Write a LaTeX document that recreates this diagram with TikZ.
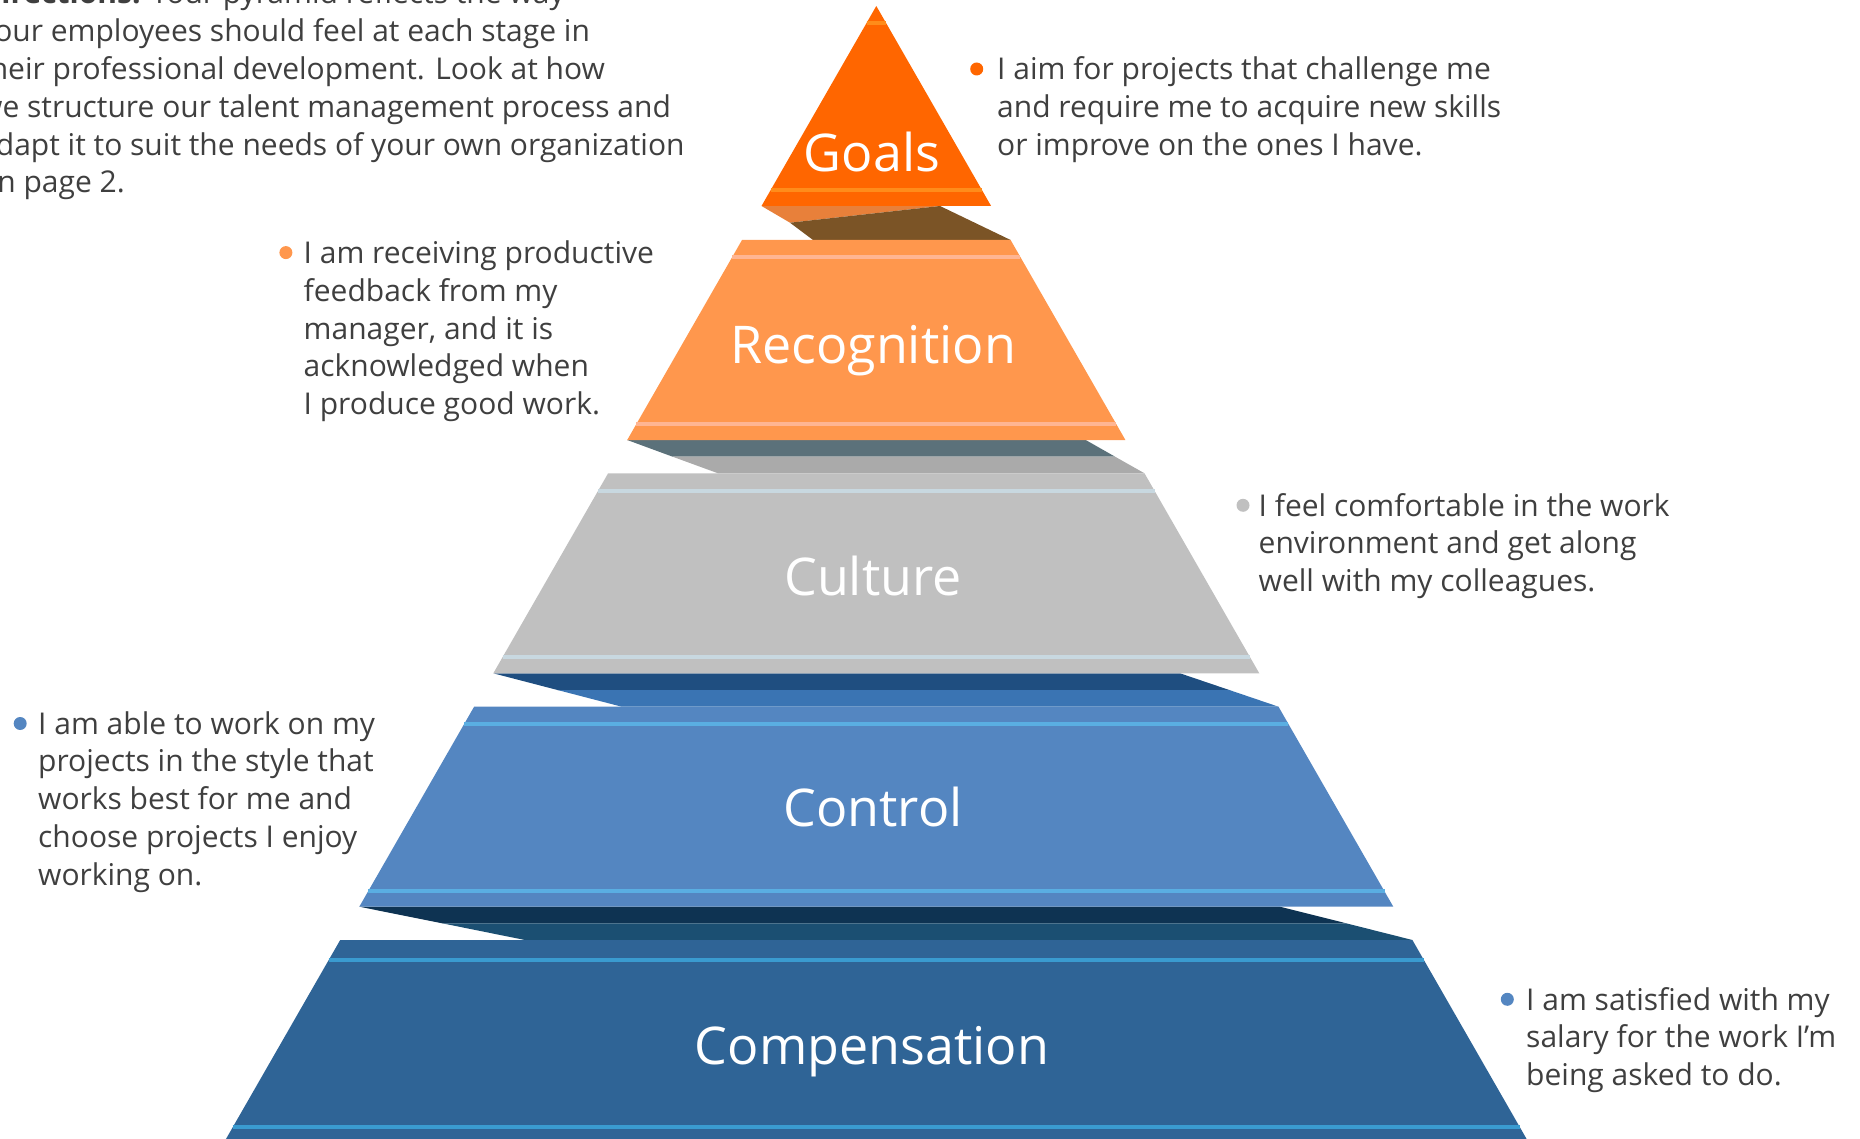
\documentclass[tikz,border=0pt]{standalone}
\usepackage{fontspec}
\setmainfont{Open Sans}
\usepackage{tikz}

\definecolor{notegray}{HTML}{3F3F3F}
\definecolor{goalsfill}{HTML}{FF6600}
\definecolor{goalsline}{HTML}{FF8C1A}
\definecolor{goalsfoldA}{HTML}{E8803A}
\definecolor{goalsfoldB}{HTML}{7B5426}
\definecolor{recfill}{HTML}{FF974D}
\definecolor{recline}{HTML}{FFB592}
\definecolor{recfoldA}{HTML}{5B717A}
\definecolor{recfoldB}{HTML}{AAAAAA}
\definecolor{culfill}{HTML}{C0C0C0}
\definecolor{culline}{HTML}{C8D8E0}
\definecolor{culfoldA}{HTML}{1F4E80}
\definecolor{culfoldB}{HTML}{3A74B3}
\definecolor{ctrlfill}{HTML}{5486C1}
\definecolor{ctrlline}{HTML}{5AAEE2}
\definecolor{ctrlfoldA}{HTML}{0E3352}
\definecolor{ctrlfoldB}{HTML}{1B4F72}
\definecolor{compfill}{HTML}{2F6496}
\definecolor{compline}{HTML}{3A9BD0}

\begin{document}
\begin{tikzpicture}[x=1pt,y=-1pt]
  \tikzstyle{Label}=[text=white,font=\fontsize{52}{62}\selectfont,anchor=base,inner sep=0pt]
  % base west of a Note is the baseline of its last line
  \tikzstyle{Note}=[text=notegray,font=\fontsize{30}{37.8}\selectfont,align=left,anchor=base west,inner sep=0pt]
  \tikzstyle{Stripe}=[line width=4pt]
  \useasboundingbox (0,0) rectangle (1860,1139);
  \clip (0,0) rectangle (1860,1139);

  % folds
  \fill[goalsfoldA] (761.5,206) -- (940,206) -- (790,222.7) -- cycle;
  \fill[goalsfoldB] (790,222.7) -- (940,206) -- (1010.6,240) -- (813,240) -- cycle;
  \fill[recfoldA] (627.2,440) -- (1085.7,440) -- (1115.1,456.7) -- (672.6,456.7) -- cycle;
  \fill[recfoldB] (672.6,456.7) -- (1115.1,456.7) -- (1144.5,473.3) -- (718,473.3) -- cycle;
  \fill[culfoldA] (493.3,673.3) -- (1180,673.3) -- (1229.3,690) -- (557.5,690) -- cycle;
  \fill[culfoldB] (557.5,690) -- (1229.3,690) -- (1278.5,706.7) -- (621.7,706.7) -- cycle;
  \fill[ctrlfoldA] (359.3,906.7) -- (1280,906.7) -- (1346.2,923.3) -- (442.2,923.3) -- cycle;
  \fill[ctrlfoldB] (442.2,923.3) -- (1346.2,923.3) -- (1412.4,940) -- (525,940) -- cycle;

  % steps
  \fill[goalsfill] (876.3,6) -- (991.1,206) -- (761.5,206) -- cycle;
  \draw[Stripe,goalsline] (866.7,22.7) -- (885.9,22.7);
  \draw[Stripe,goalsline] (770.7,190) -- (981.9,190);
  \fill[recfill] (742,240) -- (1010.6,240) -- (1125.4,440) -- (627.2,440) -- cycle;
  \draw[Stripe,recline] (732.4,256.7) -- (1020.2,256.7);
  \draw[Stripe,recline] (636.4,424) -- (1116.2,424);
  \fill[culfill] (608.1,473.3) -- (1144.5,473.3) -- (1259.3,673.3) -- (493.3,673.3) -- cycle;
  \draw[Stripe,culline] (598.1,490.7) -- (1154.5,490.7);
  \draw[Stripe,culline] (502.8,656.7) -- (1249.8,656.7);
  \fill[ctrlfill] (474.1,706.7) -- (1278.5,706.7) -- (1393.3,906.7) -- (359.3,906.7) -- cycle;
  \draw[Stripe,ctrlline] (464.2,724) -- (1288.4,724);
  \draw[Stripe,ctrlline] (368.1,891.3) -- (1384.5,891.3);
  \fill[compfill] (340.2,940) -- (1412.4,940) -- (1527.2,1140) -- (225.4,1140) -- cycle;
  \draw[Stripe,compline] (328.7,960) -- (1423.9,960);
  \draw[Stripe,compline] (232.7,1127.3) -- (1519.9,1127.3);

  \node[Label] (goals) at (872,171.7) {Goals};
  \node[Label] (recognition) at (873,363.3) {Recognition};
  \node[Label] (culture) at (873,595) {Culture};
  \node[Label] (control) at (873,826.7) {Control};
  \node[Label] (compensation) at (872,1064) {Compensation};

  \node[Note] (intro) at (-21,193) {\textbf{Directions:} Your pyramid reflects the way\\
    your employees should feel at each stage in\\
    their professional development. Look at how\\
    we structure our talent management process and\\
    adapt it to suit the needs of your own organization\\
    on page 2.};

  \node[Note] (goalsnote) at (997,155.6) {I aim for projects that challenge me\\
    and require me to acquire new skills\\or improve on the ones I have.};
  \node[Note] (recnote) at (303.5,414.7) {I am receiving productive\\feedback from my\\
    manager, and it is\\acknowledged when\\I produce good work.};
  \node[Note] (culnote) at (1258.5,591.6) {I feel comfortable in the work\\
    environment and get along\\well with my colleagues.};
  \node[Note] (ctrlnote) at (38,885.2) {I am able to work on my\\projects in the style that\\
    works best for me and\\choose projects I enjoy\\working on.};
  \node[Note] (compnote) at (1526,1085.6) {I am satisfied with my\\salary for the work I’m\\
    being asked to do.};

  \fill[goalsfill] (976.7,69) circle (6.5);
  \fill[recfill] (285.9,252.6) circle (6.5);
  \fill[culfill] (1243,505.3) circle (6.5);
  \fill[ctrlfill] (20.2,723.5) circle (6.5);
  \fill[ctrlfill] (1507.3,999.3) circle (6.5);
\end{tikzpicture}
\end{document}
